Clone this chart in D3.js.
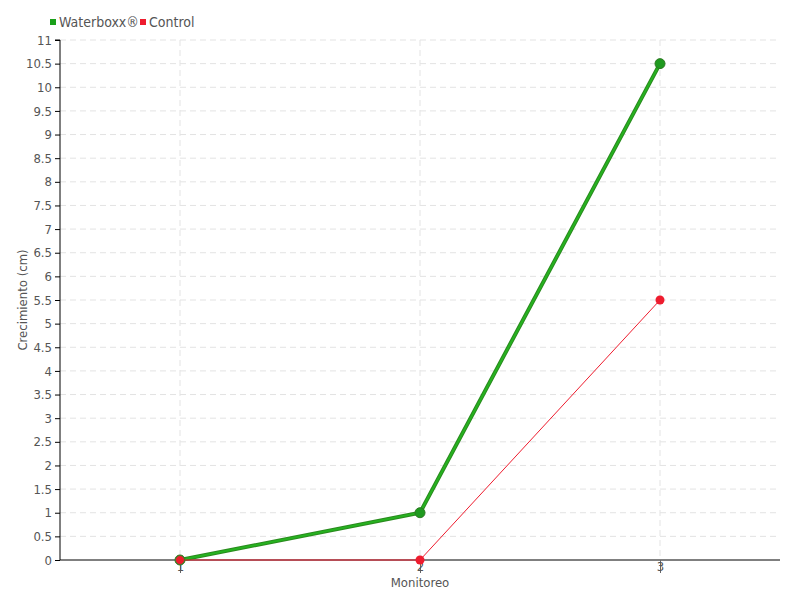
<!DOCTYPE html>
<html>
<head>
<meta charset="utf-8">
<script src="https://cdn.jsdelivr.net/npm/d3@7"></script>
<style>
  body { margin: 0; background: #fff; }
  text { font-family: "DejaVu Sans Condensed", sans-serif; fill: #555; }
</style>
</head>
<body>
<div class="chart"></div>
<script>
var categories = [1, 2, 3];
var waterboxx = [0, 1, 10.5];
var control = [0, 0, 5.5];
var yTicks = d3.range(0, 11.01, 0.5);

var width = 800, height = 600;
var margin = { top: 40, right: 20, bottom: 40, left: 60 };

var svg = d3.select('.chart').append('svg')
    .attr('width', width)
    .attr('height', height);

var x = d3.scaleLinear()
    .domain([0.5, 3.5])
    .range([margin.left, width - margin.right]);
var y = d3.scaleLinear()
    .domain([0, 11])
    .range([height - margin.bottom, margin.top]);

// grid
svg.append('g')
  .selectAll('line')
  .data(yTicks.slice(1))
  .enter().append('line')
    .attr('x1', margin.left).attr('x2', width - margin.right)
    .attr('y1', d => y(d)).attr('y2', d => y(d))
    .attr('stroke', '#e3e3e3')
    .attr('stroke-dasharray', '6,4');
svg.append('g')
  .selectAll('line')
  .data(categories)
  .enter().append('line')
    .attr('x1', d => x(d)).attr('x2', d => x(d))
    .attr('y1', margin.top).attr('y2', y(0))
    .attr('stroke', '#e3e3e3')
    .attr('stroke-dasharray', '6,4');

// y axis
var yAxis = d3.axisLeft(y)
    .tickValues(yTicks)
    .tickFormat(d3.format('~g'))
    .tickSize(5)
    .tickPadding(3);
var gy = svg.append('g')
    .attr('transform', 'translate(' + margin.left + ',0)')
    .call(yAxis);
gy.select('.domain').attr('stroke', '#000').attr('d', 'M-5,' + y(11) + 'H0V' + y(0));
gy.selectAll('.tick line').attr('stroke', '#000');
gy.selectAll('.tick text').style('font-size', '13px').attr('fill', '#555');

// x axis
var xAxis = d3.axisBottom(x)
    .tickValues(categories)
    .tickFormat(d3.format('d'))
    .tickSize(13)
    .tickPadding(-11);
var gx = svg.append('g')
    .attr('transform', 'translate(0,' + y(0) + ')')
    .call(xAxis);
gx.select('.domain').attr('stroke', '#000').attr('d', 'M' + margin.left + ',0H' + (width - margin.right));
gx.selectAll('.tick line').attr('stroke', '#666');
gx.selectAll('.tick text').style('font-size', '13px').attr('fill', '#555');

// axis titles
svg.append('text')
    .attr('x', x(2)).attr('y', 587)
    .style('text-anchor', 'middle')
    .style('font-size', '13px')
    .text('Monitoreo');
svg.append('text')
    .attr('transform', 'translate(27,' + y(5.5) + ') rotate(-90)')
    .style('text-anchor', 'middle')
    .style('font-size', '13px')
    .text('Crecimiento (cm)');

var line = d3.line()
    .x((d, i) => x(categories[i]))
    .y(d => y(d));

// Waterboxx
svg.append('path')
    .datum(waterboxx)
    .attr('d', line)
    .attr('fill', 'none')
    .attr('stroke', '#2a8a1e')
    .attr('stroke-width', 4);
svg.append('path')
    .datum(waterboxx)
    .attr('d', line)
    .attr('fill', 'none')
    .attr('stroke', '#26b220')
    .attr('stroke-width', 2);
svg.append('g')
  .selectAll('circle')
  .data(waterboxx)
  .enter().append('circle')
    .attr('cx', (d, i) => x(categories[i]))
    .attr('cy', d => y(d))
    .attr('r', 5)
    .attr('fill', '#1f9a1f')
    .attr('stroke', '#2c7a22')
    .attr('stroke-width', 1);

// Control
svg.append('path')
    .datum(control)
    .attr('d', line)
    .attr('fill', 'none')
    .attr('stroke', '#ee1c2e')
    .attr('stroke-width', 1);
svg.append('g')
  .selectAll('circle')
  .data(control)
  .enter().append('circle')
    .attr('cx', (d, i) => x(categories[i]))
    .attr('cy', d => y(d))
    .attr('r', 4.5)
    .attr('fill', '#ee1c2e')
    .attr('stroke', (d, i) => i == 0 ? '#4a7a2a' : 'none');

// legend
var legend = [
  { name: 'Waterboxx\u00AE', color: '#1aa01a', x: 50 },
  { name: 'Control', color: '#ee1c2e', x: 140 }
];
var lg = svg.append('g').selectAll('g')
    .data(legend)
    .enter().append('g')
    .attr('transform', d => 'translate(' + d.x + ',0)');
lg.append('rect')
    .attr('x', 0).attr('y', 19)
    .attr('width', 6).attr('height', 6)
    .attr('fill', d => d.color);
lg.append('text')
    .attr('x', 9).attr('y', 27)
    .style('font-size', '14px')
    .text(d => d.name);
</script>
</body>
</html>
